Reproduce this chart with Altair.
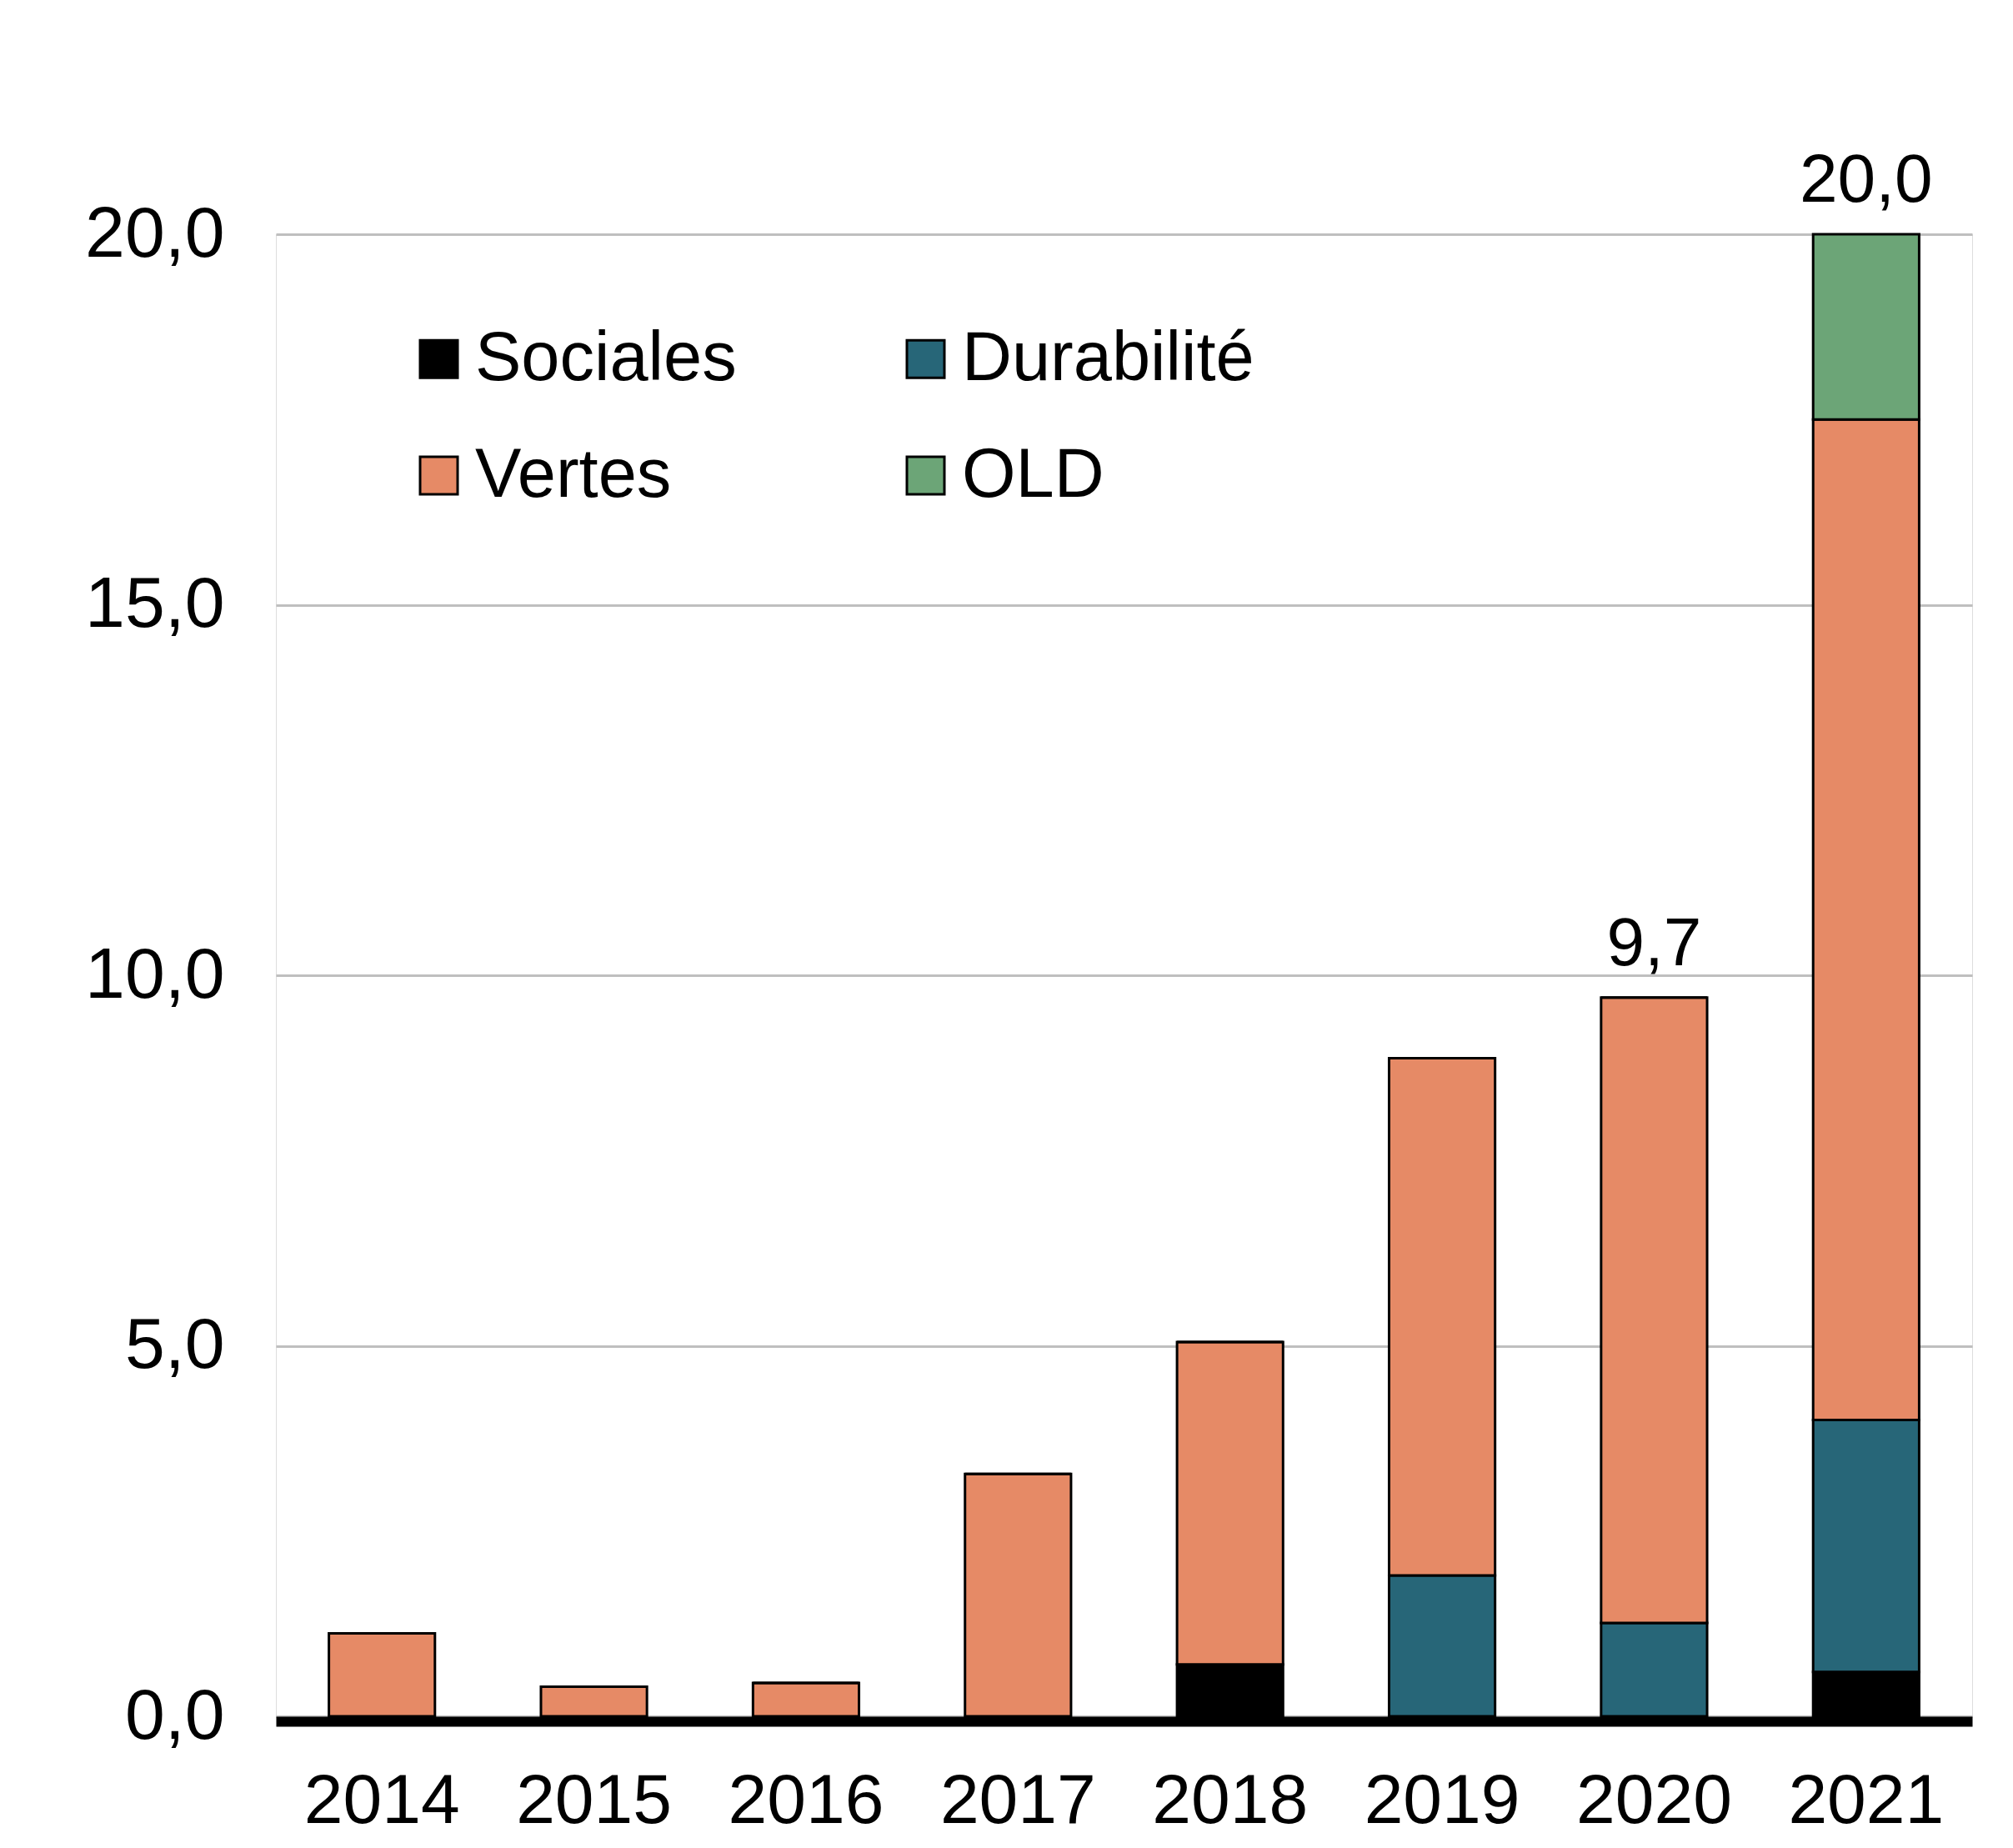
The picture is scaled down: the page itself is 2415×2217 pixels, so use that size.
import altair as alt
import pandas as pd

years = ["2014", "2015", "2016", "2017", "2018", "2019", "2020", "2021"]
series = ["Sociales", "Durabilité", "Vertes", "OLD"]
legend_order = ["Sociales", "Vertes", "Durabilité", "OLD"]
legend_colors = ["#000000", "#E68A66", "#276678", "#6CA577"]
sociales = [0, 0, 0, 0, 0.7, 0, 0, 0.6]
durabilite = [0, 0, 0, 0, 0, 1.9, 1.26, 3.4]
vertes = [1.12, 0.4, 0.45, 3.27, 4.35, 6.98, 8.44, 13.5]
old = [0, 0, 0, 0, 0, 0, 0, 2.5]
label_years = ["2020", "2021"]
label_text = ["9,7", "20,0"]

rows = []
for i, y in enumerate(years):
    for k, (name, vals) in enumerate(zip(series, [sociales, durabilite, vertes, old])):
        rows.append({"year": y, "serie": name, "idx": k, "value": vals[i]})
df = pd.DataFrame(rows)

totals = {y: sociales[i] + durabilite[i] + vertes[i] + old[i] for i, y in enumerate(years)}
lbl = pd.DataFrame({"year": label_years, "total": [totals[y] for y in label_years], "txt": label_text})

FONT = "Liberation Sans"

x_enc = alt.X("year:N", title=None, sort=years,
              scale=alt.Scale(paddingInner=0.5, paddingOuter=0.25),
              axis=alt.Axis(labelAngle=0, labelFontSize=84, labelFont=FONT, labelColor="black",
                            labelPadding=55, labelLimit=0, ticks=False, domain=True,
                            domainColor="black", domainWidth=12, offset=6, zindex=1))

bars = alt.Chart(df).mark_bar(stroke="black", strokeWidth=3).encode(
    x=x_enc,
    y=alt.Y("value:Q", stack="zero", title=None,
            scale=alt.Scale(domain=[0, 20], nice=False),
            axis=alt.Axis(values=[0, 5, 10, 15, 20], grid=True, gridColor="#BFBFBF", gridWidth=3,
                          domain=False, ticks=False, labelFontSize=86, labelFont=FONT,
                          labelColor="black", labelPadding=62,
                          labelExpr="replace(format(datum.value, '.1f'), '.', ',')")),
    color=alt.Color("serie:N", sort=legend_order,
                    scale=alt.Scale(domain=legend_order, range=legend_colors),
                    legend=alt.Legend(title=None, orient="none", legendX=154, legendY=108,
                                      columns=2, symbolType="square", symbolSize=2025,
                                      symbolStrokeColor="black", symbolStrokeWidth=3,
                                      labelFontSize=83, labelFont=FONT, labelColor="black",
                                      labelOffset=2, rowPadding=56, columnPadding=185,
                                      labelLimit=0)),
    order=alt.Order("idx:Q", sort="ascending"),
)

texts = alt.Chart(lbl).mark_text(fontSize=82, font=FONT, color="black", baseline="bottom", dy=-22).encode(
    x=alt.X("year:N", sort=years),
    y=alt.Y("total:Q"),
    text="txt:N",
)

chart = alt.layer(bars, texts).properties(
    width=2035, height=1778,
    padding={"left": 93, "top": 168, "right": 20, "bottom": 10},
).configure_view(stroke=None).configure(background="white")

chart.save("out.html", embed_options={"renderer": "svg", "actions": False})
